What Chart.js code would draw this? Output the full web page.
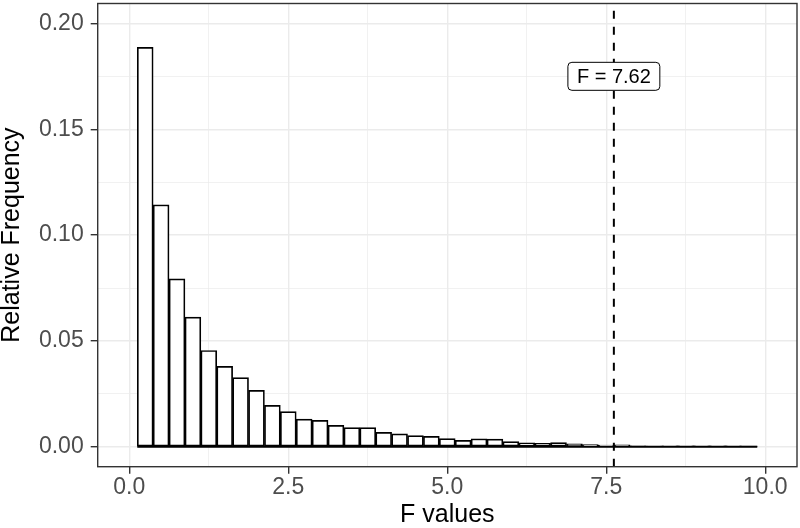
<!DOCTYPE html>
<html>
<head>
<meta charset="utf-8">
<title>Distribution of F values</title>
<script src="https://cdn.jsdelivr.net/npm/chart.js@4.4.1/dist/chart.umd.min.js"></script>
<style>
  html, body { margin: 0; padding: 0; background: #fff; }
  #wrap { width: 800px; height: 528px; position: relative; }
</style>
</head>
<body>
<div id="wrap"><canvas id="histChart"></canvas></div>
<script>
// Histogram bins (binwidth 0.25), bin centres on the F axis
const binWidth = 0.25;
const binCenters = [
  0.25, 0.5, 0.75, 1, 1.25, 1.5, 1.75, 2, 2.25, 2.5,
  2.75, 3, 3.25, 3.5, 3.75, 4, 4.25, 4.5, 4.75, 5,
  5.25, 5.5, 5.75, 6, 6.25, 6.5, 6.75, 7, 7.25, 7.5,
  7.75, 8, 8.25, 8.5, 8.75, 9, 9.25, 9.5, 9.75,
];

// Relative frequency per bin
const relFreq = [
  0.1887, 0.1143, 0.0793, 0.0613, 0.0455, 0.0380, 0.0327, 0.0267, 0.0196, 0.0166,
  0.0131, 0.0125, 0.0101, 0.0091, 0.0091, 0.0068, 0.0061, 0.0053, 0.0049, 0.0039,
  0.0030, 0.0038, 0.0036, 0.0025, 0.0019, 0.0016, 0.0020, 0.0014, 0.0010, 0.0008,
  0.0009, 0.0004, 0.0003, 0.0005, 0.0005, 0.0005, 0.0005, 0.0005, 0.0002,
];

// Observed F statistic and its label
const fObserved = 7.62;
const fLabel = "F = 7.62";
const fLabelY = 0.175;

// Labelled (major) ticks
const xTicks = [0, 2.5, 5, 7.5, 10];
const xTickLabels = ["0.0", "2.5", "5.0", "7.5", "10.0"];
const yTicks = [0, 0.05, 0.1, 0.15, 0.2];
const yTickLabels = ["0.00", "0.05", "0.10", "0.15", "0.20"];

// All grid lines (major + minor)
const xGrid = [0, 1.25, 2.5, 3.75, 5, 6.25, 7.5, 8.75, 10];
const yGrid = [0, 0.025, 0.05, 0.075, 0.1, 0.125, 0.15, 0.175, 0.2];

// Axis limits (ggplot-style expansion)
const xMin = -0.497, xMax = 10.5;
const yMin = -0.0094, yMax = 0.2094;

const FONT = "'Liberation Sans', Arial, Helvetica, sans-serif";
Chart.defaults.font.family = FONT;

function findTick(list, v) {
  return list.findIndex((t) => Math.abs(t - v) < 1e-9);
}

function gridStyle(list) {
  return {
    color: "#EBEBEB",
    lineWidth: (c) => (c.tick && findTick(list, c.tick.value) >= 0 ? 1.4 : 0.7),
    tickColor: (c) => (c.tick && findTick(list, c.tick.value) >= 0 ? "#333333" : "rgba(0,0,0,0)"),
    tickLength: 7,
    tickWidth: 1.4,
    offset: false,
  };
}

// Panel border and the "F = ..." label box
const panelExtras = {
  id: "panelExtras",
  afterDraw(chart) {
    const { ctx, chartArea: a, scales } = chart;
    ctx.save();

    const px = scales.x.getPixelForValue(fObserved);
    const py = scales.y.getPixelForValue(fLabelY);
    ctx.font = "20px " + FONT;
    const w = ctx.measureText(fLabel).width + 18;
    const h = 28;
    ctx.beginPath();
    ctx.roundRect(px - w / 2, py - h / 2, w, h, 4);
    ctx.fillStyle = "#fff";
    ctx.fill();
    ctx.lineWidth = 1;
    ctx.strokeStyle = "#000";
    ctx.stroke();
    ctx.fillStyle = "#000";
    ctx.textAlign = "center";
    ctx.textBaseline = "middle";
    ctx.fillText(fLabel, px, py + 1);

    ctx.strokeStyle = "#333333";
    ctx.lineWidth = 1.4;
    ctx.strokeRect(a.left, a.top, a.right - a.left, a.bottom - a.top);
    ctx.restore();
  },
};

const firstEdge = binCenters[0] - binWidth / 2;
const lastEdge = binCenters[binCenters.length - 1] + binWidth / 2;

const ctx = document.getElementById("histChart").getContext("2d");

new Chart(ctx, {
  type: "bar",
  data: {
    datasets: [
      {
        label: "Relative Frequency",
        data: binCenters.map((x, i) => ({ x: x, y: relFreq[i] })),
        backgroundColor: "#FFFFFF",
        borderColor: "#000000",
        borderWidth: 1.7,
        borderSkipped: false,
        barPercentage: 1,
        categoryPercentage: 1,
        order: 3,
      },
      {
        // bottom edge of the histogram bars
        type: "line",
        label: "baseline",
        data: [
          { x: firstEdge, y: 0 },
          { x: lastEdge, y: 0 },
        ],
        borderColor: "#000000",
        borderWidth: 2,
        pointRadius: 0,
        fill: false,
        order: 2,
      },
      {
        type: "line",
        label: fLabel,
        data: [
          { x: fObserved, y: yMin },
          { x: fObserved, y: yMax },
        ],
        borderColor: "#000000",
        borderWidth: 2,
        borderDash: [8, 8],
        pointRadius: 0,
        fill: false,
        order: 1,
      },
    ],
  },
  options: {
    responsive: true,
    maintainAspectRatio: false,
    animation: false,
    layout: { padding: { top: 3.5, right: 3, left: 0, bottom: 0 } },
    plugins: {
      legend: { display: false },
      tooltip: { enabled: false },
    },
    scales: {
      x: {
        type: "linear",
        min: xMin,
        max: xMax,
        bounds: "data",
        offset: false,
        grid: gridStyle(xTicks),
        border: { display: false },
        afterBuildTicks: (scale) => {
          scale.ticks = xGrid.map((v) => ({ value: v }));
        },
        ticks: {
          autoSkip: false,
          maxRotation: 0,
          padding: 0,
          color: "#4D4D4D",
          font: { size: 23 },
          callback: (v) => {
            const i = findTick(xTicks, v);
            return i >= 0 ? xTickLabels[i] : "";
          },
        },
        title: {
          display: true,
          text: "F values",
          color: "#000000",
          font: { size: 25, lineHeight: 1 },
          padding: 0,
        },
        afterFit: (scale) => {
          scale.height = 61.3;
          scale.paddingLeft = 0;
          scale.paddingRight = 0;
        },
      },
      y: {
        type: "linear",
        min: yMin,
        max: yMax,
        bounds: "data",
        grid: gridStyle(yTicks),
        border: { display: false },
        afterBuildTicks: (scale) => {
          scale.ticks = yGrid.map((v) => ({ value: v }));
        },
        ticks: {
          autoSkip: false,
          padding: 7,
          color: "#4D4D4D",
          font: { size: 23 },
          callback: (v) => {
            const i = findTick(yTicks, v);
            return i >= 0 ? yTickLabels[i] : "";
          },
        },
        title: {
          display: true,
          text: "Relative Frequency",
          color: "#000000",
          font: { size: 25, lineHeight: 1 },
          padding: 0,
        },
        afterFit: (scale) => {
          scale.width = 97.7;
          scale.paddingTop = 0;
          scale.paddingBottom = 0;
        },
      },
    },
  },
  plugins: [panelExtras],
});
</script>
</body>
</html>
